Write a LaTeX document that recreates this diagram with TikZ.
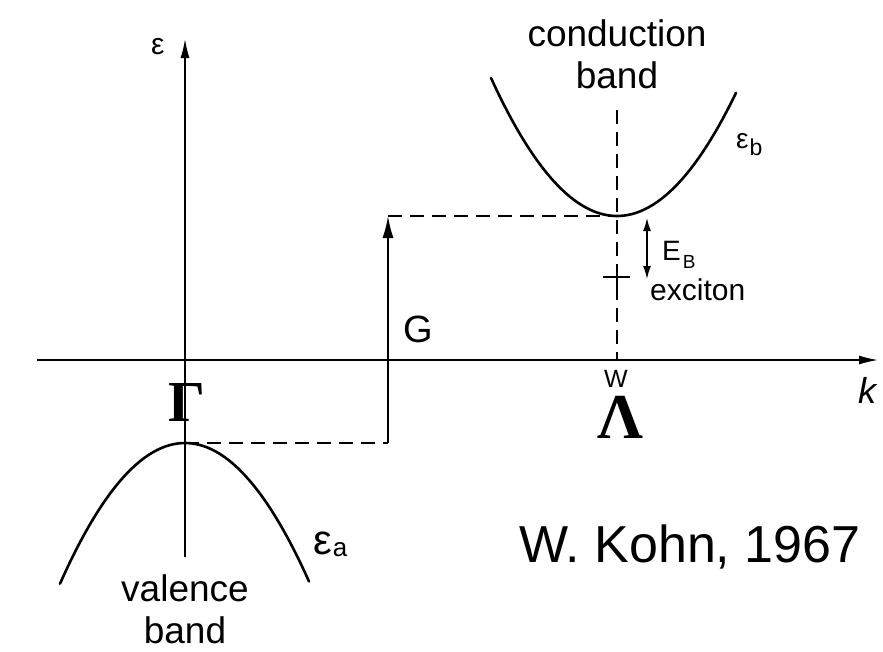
\documentclass[tikz,border=0pt]{standalone}
\usepackage{fontspec}
\setmainfont{Liberation Sans}
\newfontfamily\greekfont{Liberation Serif}
\usepackage{tikz}
\usetikzlibrary{arrows.meta}

\tikzset{
    band/.style={line width=2.6pt, line cap=round},
    axis/.style={line width=1.5pt, -{Latex[length=19pt, width=9pt]}},
    guide/.style={line width=1.6pt, dash pattern=on 14pt off 8pt},
    hand/.style={inner sep=0pt, anchor=base west},
    caption/.style={inner sep=0pt, align=center, anchor=base, font=\fontsize{37}{42}\selectfont},
}
\newcommand{\handsub}[3]{\raisebox{-#1pt}{\fontsize{#2}{#2}\selectfont #3}}

\begin{document}
\begin{tikzpicture}[x=1pt, y=-1pt]
    \useasboundingbox (0,0) rectangle (883,651);

    % Key points
    \coordinate (vtop) at (185,443);
    \coordinate (cbot) at (617,216);
    \coordinate (gfoot) at (388,443);
    \coordinate (ghead) at (388,216);
    \coordinate (lamtop) at (617,110);
    \coordinate (lamfoot) at (617,360);
    \coordinate (exc) at (617,277);
    \coordinate (ebtop) at (647,218);
    \coordinate (ebbot) at (647,279);

    % Axes
    \coordinate (eorig) at (185,557);
    \coordinate (etop) at (185,39);
    \coordinate (korig) at (37,360);
    \coordinate (kend) at (878,360);
    \draw[axis] (eorig) -- (etop);
    \draw[axis] (korig) -- (kend);

    % Bands
    \draw[band] plot[domain=60:309, samples=60] (\x, {443+0.009*(\x-185)^2});
    \draw[band] plot[domain=491:736, samples=60] (\x, {216-0.0087*(\x-617)^2});

    % Transition and exciton level
    \draw[guide] (vtop) -- (gfoot);
    \draw[line width=1.8pt, -{Latex[length=22pt, width=11pt]}] (gfoot) -- (ghead);
    \draw[guide] (ghead) -- (cbot);
    \draw[guide] (lamtop) -- (lamfoot);
    \draw[line width=1.6pt] ([xshift=-14pt]exc) -- ([xshift=13pt]exc);
    \draw[line width=1.6pt] ([yshift=10pt]exc) -- ([yshift=-9pt]exc);
    \draw[line width=1.6pt, {Latex[length=13pt, width=8pt]}-{Latex[length=13pt, width=8pt]}] (ebtop) -- (ebbot);

    % Labels
    \node[hand, font=\fontsize{30}{30}\selectfont] (eps) at (151,54) {ε};
    \node[hand, font=\fontsize{36}{36}\selectfont\itshape] (k) at (858,403) {k};
    \node[hand, font=\fontsize{38}{38}\selectfont] (g) at (403,342) {G};
    \node[hand, font=\fontsize{28}{28}\selectfont] (eb) at (662,260) {E\kern2pt\handsub{8}{19}{B}};
    \node[hand, font=\fontsize{30}{30}\selectfont] (exciton) at (650,300) {exciton};
    \node[inner sep=0pt, anchor=base, text height=17pt, text depth=0pt, font=\fontsize{25}{25}\selectfont] (wmark) at (616,387) {W};
    \node[hand, font=\fontsize{28}{28}\selectfont] (epsb) at (736,148) {ε\kern1pt\handsub{7}{23}{b}};
    \node[hand, font=\fontsize{42}{42}\selectfont] (epsa) at (313,554) {ε\kern1pt\handsub{2}{26}{a}};
    \node[inner sep=0pt, anchor=base, font=\fontsize{58}{58}\selectfont\greekfont\bfseries] (gamma) at (187,421) {Γ};
    \node[inner sep=0pt, anchor=base, text height=42pt, text depth=0pt, font=\fontsize{64}{64}\selectfont\greekfont\bfseries] (lambda) at (620,438) {Λ};

    % Captions
    \node[caption] (cond) at (617,88) {conduction\\band};
    \node[caption] (val) at (185,643) {valence\\band};
    \node[inner sep=0pt, anchor=base, font=\fontsize{52}{52}\selectfont] (kohn) at (690,562) {W. Kohn, 1967};
\end{tikzpicture}
\end{document}
